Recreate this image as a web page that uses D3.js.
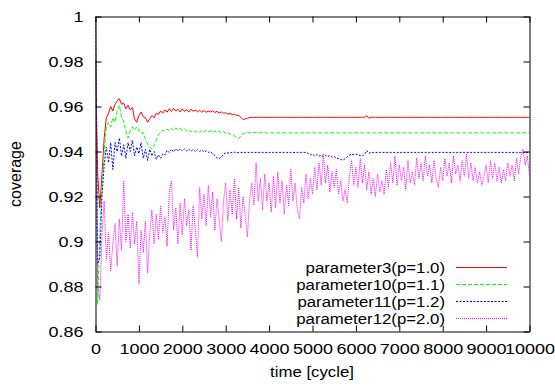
<!DOCTYPE html>
<html>
<head>
<meta charset="utf-8">
<script src="https://cdn.jsdelivr.net/npm/d3@7"></script>
<style>
  body { margin: 0; background: #fff; }
  text { font-family: "Liberation Sans", Arial, sans-serif; fill: #000; }
</style>
</head>
<body>
<div id="canvas"></div>
<script>
// sampled every 50 cycles, 0..10000
const step = 50;

const param3 = [
  0.980, 0.930, 0.915, 0.930, 0.946, 0.955, 0.957, 0.960, 0.958, 0.961,
  0.9625, 0.9635, 0.961, 0.9615, 0.959, 0.9605, 0.9585, 0.9595, 0.9545, 0.953,
  0.956, 0.9575, 0.9555, 0.955, 0.953, 0.9545, 0.956, 0.955, 0.957, 0.9565,
  0.958, 0.957, 0.9585, 0.9575, 0.959, 0.9578, 0.9592, 0.958, 0.9588, 0.9576,
  0.959, 0.9578, 0.9586, 0.9575, 0.9588, 0.9579, 0.9584, 0.9576, 0.9583, 0.9575,
  0.9582, 0.9574, 0.958, 0.9576, 0.9581, 0.9574, 0.9578, 0.9572, 0.9576, 0.957,
  0.9572, 0.9566, 0.9569, 0.9564, 0.9566, 0.9561, 0.956, 0.9552, 0.9542, 0.9545,
  0.9548, 0.9551, 0.9552, 0.9552, 0.9552, 0.9552, 0.9552, 0.9552, 0.9552, 0.9552,
  0.9552, 0.9552, 0.9552, 0.9552, 0.9552, 0.9552, 0.9552, 0.9552, 0.9552, 0.9552,
  0.9552, 0.9552, 0.9552, 0.9552, 0.9552, 0.9552, 0.9552, 0.9552, 0.9552, 0.9552,
  0.9552, 0.9552, 0.9552, 0.9552, 0.9552, 0.9552, 0.9552, 0.9552, 0.9552, 0.9552,
  0.9552, 0.9552, 0.9552, 0.9552, 0.9552, 0.9552, 0.9552, 0.9552, 0.9552, 0.9552,
  0.9552, 0.9552, 0.9552, 0.9552, 0.9552, 0.9559, 0.9547, 0.9552, 0.9552, 0.9552,
  0.9552, 0.9552, 0.9552, 0.9552, 0.9552, 0.9552, 0.9552, 0.9552, 0.9552, 0.9552,
  0.9552, 0.9552, 0.9552, 0.9552, 0.9552, 0.9552, 0.9552, 0.9552, 0.9552, 0.9552,
  0.9552, 0.9552, 0.9552, 0.9552, 0.9552, 0.9552, 0.9552, 0.9552, 0.9552, 0.9552,
  0.9552, 0.9552, 0.9552, 0.9552, 0.9552, 0.9552, 0.9552, 0.9552, 0.9552, 0.9552,
  0.9552, 0.9552, 0.9552, 0.9552, 0.9552, 0.9552, 0.9552, 0.9552, 0.9552, 0.9552,
  0.9552, 0.9552, 0.9552, 0.9552, 0.9552, 0.9552, 0.9552, 0.9552, 0.9552, 0.9552,
  0.9552, 0.9552, 0.9552, 0.9552, 0.9552, 0.9552, 0.9552, 0.9552, 0.9552, 0.9552,
  0.9552
];

const param10 = [
  1.000, 0.872, 0.905, 0.925, 0.939, 0.951, 0.953, 0.951, 0.955, 0.953,
  0.958, 0.9605, 0.955, 0.9535, 0.949, 0.946, 0.949, 0.951, 0.9495, 0.951,
  0.9495, 0.948, 0.9485, 0.9455, 0.9435, 0.942, 0.941, 0.9425, 0.945, 0.9475,
  0.9485, 0.9495, 0.949, 0.950, 0.9492, 0.9502, 0.9494, 0.9505, 0.9497, 0.9503,
  0.9495, 0.950, 0.9491, 0.9497, 0.9488, 0.9494, 0.9486, 0.9492, 0.9485, 0.9493,
  0.9486, 0.9494, 0.9487, 0.9492, 0.9485, 0.9491, 0.9484, 0.949, 0.9482, 0.9488,
  0.948, 0.9485, 0.9476, 0.9478, 0.947, 0.9462, 0.9458, 0.9468, 0.9478, 0.9483,
  0.9486, 0.9482, 0.9487, 0.9483, 0.9486, 0.9482, 0.9485, 0.9483, 0.9484, 0.9482,
  0.9483, 0.9483, 0.9483, 0.9483, 0.9483, 0.9483, 0.9483, 0.9483, 0.9483, 0.9483,
  0.9483, 0.9483, 0.9483, 0.9483, 0.9483, 0.9483, 0.9483, 0.9483, 0.9483, 0.9483,
  0.9483, 0.9483, 0.9483, 0.9483, 0.9483, 0.9483, 0.9483, 0.9483, 0.9483, 0.9483,
  0.9483, 0.9483, 0.9483, 0.9483, 0.9483, 0.9483, 0.9483, 0.9483, 0.9483, 0.9483,
  0.9483, 0.9483, 0.9483, 0.9483, 0.9483, 0.9483, 0.9483, 0.9483, 0.9483, 0.9483,
  0.9483, 0.9483, 0.9483, 0.9483, 0.9483, 0.9483, 0.9483, 0.9483, 0.9483, 0.9483,
  0.9483, 0.9483, 0.9483, 0.9483, 0.9483, 0.9483, 0.9483, 0.9483, 0.9483, 0.9483,
  0.9483, 0.9483, 0.9483, 0.9483, 0.9483, 0.9483, 0.9483, 0.9483, 0.9483, 0.9483,
  0.9483, 0.9483, 0.9483, 0.9483, 0.9483, 0.9483, 0.9483, 0.9483, 0.9483, 0.9483,
  0.9483, 0.9483, 0.9483, 0.9483, 0.9483, 0.9483, 0.9483, 0.9483, 0.9483, 0.9483,
  0.9483, 0.9483, 0.9483, 0.9483, 0.9483, 0.9483, 0.9483, 0.9483, 0.9483, 0.9483,
  0.9483, 0.9483, 0.9483, 0.9483, 0.9483, 0.9483, 0.9483, 0.9483, 0.9483, 0.9483,
  0.9483
];

const param11 = [
  1.000, 0.890, 0.893, 0.920, 0.934, 0.942, 0.935, 0.944, 0.932, 0.944,
  0.940, 0.946, 0.938, 0.943, 0.937, 0.944, 0.940, 0.945, 0.938, 0.942,
  0.939, 0.944, 0.937, 0.941, 0.936, 0.941, 0.938, 0.940, 0.9365, 0.9385,
  0.937, 0.939, 0.9385, 0.9405, 0.9395, 0.941, 0.9398, 0.9412, 0.9402, 0.9413,
  0.9403, 0.9412, 0.9402, 0.941, 0.9401, 0.9409, 0.940, 0.9408, 0.940, 0.9406,
  0.9398, 0.9403, 0.9396, 0.9399, 0.939, 0.9382, 0.9372, 0.9368, 0.9375, 0.9388,
  0.9395, 0.9393, 0.9397, 0.9394, 0.9397, 0.9395, 0.9396, 0.9396, 0.9396, 0.9396,
  0.9396, 0.9396, 0.9396, 0.9396, 0.9396, 0.9396, 0.9396, 0.9396, 0.9396, 0.9396,
  0.9396, 0.9396, 0.9396, 0.9396, 0.9396, 0.9396, 0.9396, 0.9396, 0.9396, 0.9396,
  0.9396, 0.9396, 0.9396, 0.9396, 0.9396, 0.9396, 0.9396, 0.9396, 0.9392, 0.9385,
  0.9389, 0.9381, 0.9386, 0.9379, 0.9384, 0.9378, 0.9383, 0.9377, 0.9382, 0.9375,
  0.9378, 0.937, 0.9368, 0.9364, 0.9362, 0.9368, 0.9376, 0.9384, 0.9388, 0.9386,
  0.9389, 0.9385, 0.9382, 0.938, 0.9388, 0.9404, 0.9392, 0.9396, 0.9396, 0.9396,
  0.9396, 0.9396, 0.9396, 0.9396, 0.9396, 0.9396, 0.9396, 0.9396, 0.9396, 0.9396,
  0.9396, 0.9396, 0.9396, 0.9396, 0.9396, 0.9396, 0.9396, 0.9396, 0.9396, 0.9396,
  0.9396, 0.9396, 0.9396, 0.9396, 0.9396, 0.9396, 0.9396, 0.9396, 0.9396, 0.9396,
  0.9396, 0.9396, 0.9396, 0.9396, 0.9396, 0.9396, 0.9396, 0.9396, 0.9396, 0.9396,
  0.9396, 0.9396, 0.9396, 0.9396, 0.9396, 0.9396, 0.9396, 0.9396, 0.9396, 0.9396,
  0.9396, 0.9396, 0.9396, 0.9396, 0.9396, 0.9396, 0.9396, 0.9396, 0.9396, 0.9396,
  0.9396, 0.9396, 0.9396, 0.9396, 0.9396, 0.9396, 0.9396, 0.9396, 0.9396, 0.9396,
  0.9396
];

const param12 = [
  1.000, 0.880, 0.874, 0.903, 0.918, 0.892, 0.904, 0.887, 0.899, 0.908,
  0.889, 0.910, 0.896, 0.927, 0.900, 0.912, 0.897, 0.913, 0.899, 0.909,
  0.881, 0.905, 0.895, 0.909, 0.886, 0.903, 0.914, 0.899, 0.912, 0.901,
  0.916, 0.904, 0.911, 0.898, 0.922, 0.927, 0.905, 0.915, 0.899, 0.917,
  0.903, 0.919, 0.907, 0.914, 0.896, 0.916, 0.905, 0.893, 0.924, 0.910,
  0.921, 0.907, 0.925, 0.911, 0.922, 0.905, 0.919, 0.910, 0.900, 0.918,
  0.926, 0.909, 0.923, 0.912, 0.928, 0.910, 0.924, 0.906, 0.920, 0.911,
  0.902, 0.919, 0.926, 0.916, 0.935, 0.918, 0.928, 0.914, 0.930, 0.918,
  0.926, 0.913, 0.929, 0.915, 0.931, 0.917, 0.927, 0.912, 0.925, 0.916,
  0.932, 0.918, 0.926, 0.914, 0.910, 0.924, 0.917, 0.930, 0.919, 0.928,
  0.921, 0.933, 0.923, 0.935, 0.925, 0.939, 0.926, 0.934, 0.922, 0.931,
  0.924, 0.932, 0.921, 0.927, 0.918, 0.923, 0.917, 0.929, 0.936, 0.925,
  0.933, 0.924, 0.937, 0.926, 0.934, 0.923, 0.931, 0.921, 0.928, 0.920,
  0.930, 0.922, 0.927, 0.921, 0.932, 0.924, 0.935, 0.926, 0.938, 0.925,
  0.934, 0.927, 0.933, 0.923, 0.936, 0.926, 0.931, 0.925, 0.937, 0.928,
  0.935, 0.927, 0.938, 0.929, 0.934, 0.926, 0.936, 0.928, 0.924, 0.933,
  0.927, 0.937, 0.929, 0.935, 0.926, 0.938, 0.930, 0.934, 0.927, 0.936,
  0.929, 0.939, 0.928, 0.935, 0.927, 0.933, 0.926, 0.931, 0.925, 0.929,
  0.934, 0.926, 0.936, 0.928, 0.935, 0.927, 0.933, 0.926, 0.932, 0.927,
  0.935, 0.929, 0.934, 0.927, 0.937, 0.930, 0.938, 0.941, 0.934, 0.938,
  0.929
];

const seriesNames = ["parameter3(p=1.0)", "parameter10(p=1.1)", "parameter11(p=1.2)", "parameter12(p=2.0)"];
const seriesColors = ["#ff0000", "#00ff00", "#0000ff", "#ff00ff"];
const seriesDash = [null, "4,2", "2,1.5", "1,1"];
const xTicks = [0, 1000, 2000, 3000, 4000, 5000, 6000, 7000, 8000, 9000, 10000];
const yTicks = [0.86, 0.88, 0.9, 0.92, 0.94, 0.96, 0.98, 1];

const width = 555;
const height = 389;
// the reference text is wider than Liberation Sans
const tickStretch = 1.2;
const textStretch = 1.12;

const svg = d3.select("#canvas")
  .append("svg")
  .attr("width", width)
  .attr("height", height);

const x = d3.scaleLinear().domain([0, 10000]).range([95.5, 529.5]);
const y = d3.scaleLinear().domain([0.86, 1]).range([331.5, 16.5]);

svg.append("clipPath").attr("id", "clip")
  .append("rect")
  .attr("x", x(0)).attr("y", y(1))
  .attr("width", x(10000) - x(0)).attr("height", y(0.86) - y(1));

const line = d3.line()
  .x((d, i) => x(i * step))
  .y(d => y(d));

const plot = svg.append("g").attr("clip-path", "url(#clip)");
[param3, param10, param11, param12].forEach((vals, k) => {
  plot.append("path")
    .datum(vals)
    .attr("fill", "none")
    .attr("stroke", seriesColors[k])
    .attr("stroke-width", 1)
    .attr("stroke-dasharray", seriesDash[k])
    .attr("d", line);
});

// frame with inward ticks on all four sides
svg.append("g")
  .attr("transform", `translate(0,${y(0.86)})`)
  .call(d3.axisBottom(x).tickValues(xTicks).tickFormat(d => String(d)).tickSizeInner(-6).tickSizeOuter(0).tickPadding(11.5));
svg.append("g")
  .attr("transform", `translate(0,${y(1)})`)
  .call(d3.axisTop(x).tickValues(xTicks).tickFormat("").tickSizeInner(-6).tickSizeOuter(0));
svg.append("g")
  .attr("transform", `translate(${x(0)},0)`)
  .call(d3.axisLeft(y).tickValues(yTicks).tickFormat(d => String(d)).tickSizeInner(-6).tickSizeOuter(0).tickPadding(10));
svg.append("g")
  .attr("transform", `translate(${x(10000)},0)`)
  .call(d3.axisRight(y).tickValues(yTicks).tickFormat("").tickSizeInner(-6).tickSizeOuter(0));

svg.selectAll(".domain, .tick line").attr("stroke", "#000").attr("stroke-width", 1);
svg.selectAll(".tick text")
  .attr("font-size", 15)
  .attr("font-family", null)
  .attr("transform", `scale(${tickStretch},1)`);

// axis titles
svg.append("text")
  .attr("transform", `translate(312,377) scale(${textStretch},1)`)
  .attr("text-anchor", "middle")
  .attr("font-size", 15)
  .text("time [cycle]");

svg.append("text")
  .attr("transform", "translate(21,174) rotate(-90)")
  .attr("text-anchor", "middle")
  .attr("font-size", 16)
  .text("coverage");

// legend
const legendRows = [267, 284, 301, 318];
seriesNames.forEach((name, k) => {
  const ly = legendRows[k];
  svg.append("text")
    .attr("transform", `translate(445,${ly + 5.5}) scale(${textStretch},1)`)
    .attr("text-anchor", "end")
    .attr("font-size", 15)
    .text(name);
  svg.append("line")
    .attr("x1", 456).attr("x2", 507)
    .attr("y1", ly + 0.5).attr("y2", ly + 0.5)
    .attr("stroke", seriesColors[k])
    .attr("stroke-width", 1.2)
    .attr("stroke-dasharray", seriesDash[k]);
});
</script>
</body>
</html>
